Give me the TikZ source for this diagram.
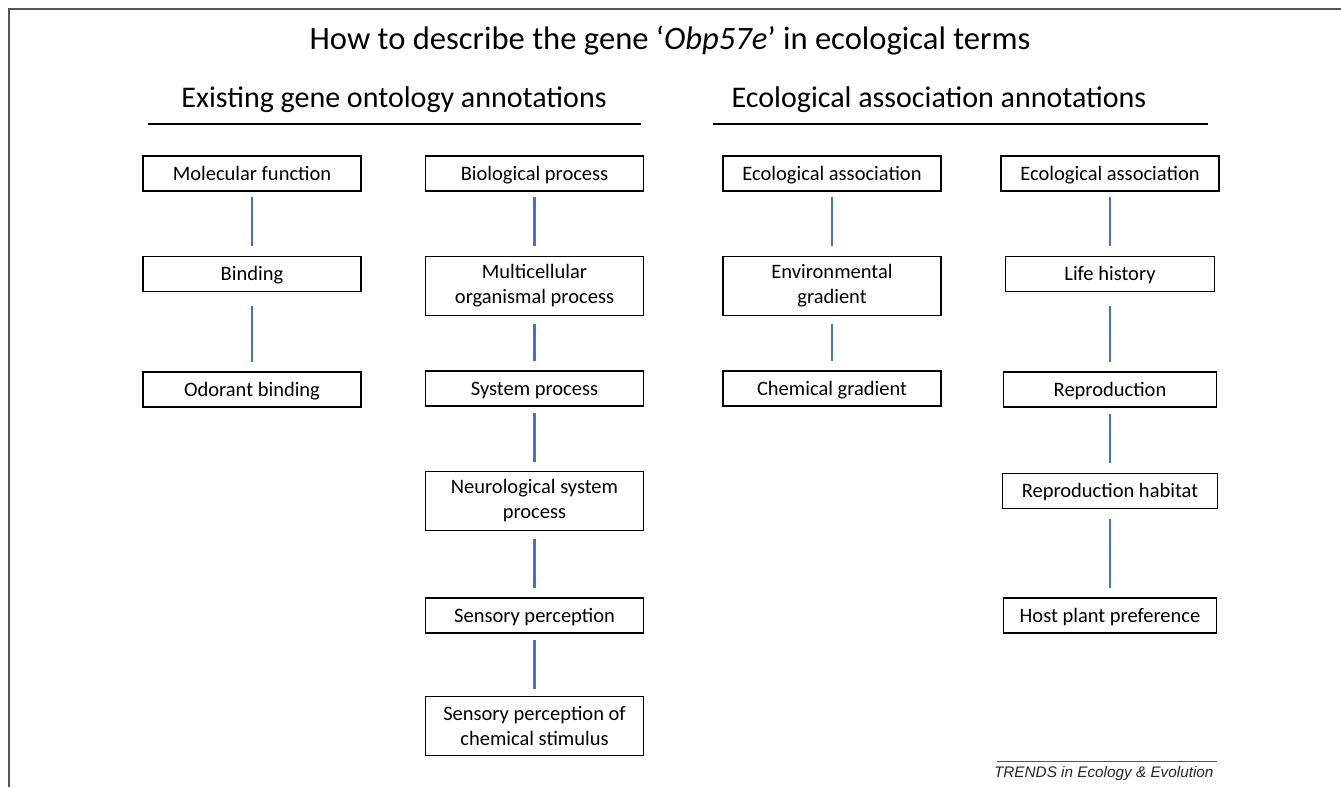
\documentclass[tikz,border=0pt]{standalone}
\usepackage{fontspec}
\setmainfont{Carlito}
\newfontfamily\trendsfont{Liberation Sans}
\usepackage{xcolor}
\usetikzlibrary{positioning}
\definecolor{linkblue}{HTML}{4472C4}
\definecolor{framegrey}{HTML}{555555}
\begin{document}
\begin{tikzpicture}[x=1pt,y=1pt,
  box/.style={draw,line width=1.5pt,minimum width=218pt,minimum height=35pt,align=center,inner sep=2pt,
    text height=17.5pt,text depth=4.5pt,font=\fontsize{20.5}{25}\selectfont},
  tall/.style={box,minimum height=59pt,text height={},text depth={}},
  link/.style={draw=linkblue,line width=2.4pt},
  head/.style={anchor=base,font=\fontsize{30}{36}\selectfont}]
\useasboundingbox (0,0) rectangle (1341,-787);
\draw[framegrey,line width=1.5pt] (9,-787) -- (9,-9) -- (1341,-9);
\node[anchor=base,font=\fontsize{32.6}{38}\selectfont] (title) at (670,-49) {How to describe the gene ‘\textit{Obp57e}’ in ecological terms};
\node[head] (gohead) at (394,-107) {Existing gene ontology annotations};
\node[head] (eahead) at (939,-107) {Ecological association annotations};
\draw[line width=2pt] (148,-124) -- (641,-124);
\draw[line width=2pt] (713,-124) -- (1208,-124);
\node[box] (molfun) at (252,-173.5) {Molecular function};
\node[box,below=64pt of molfun] (binding) {Binding};
\node[box,below=79pt of binding] (odorant) {Odorant binding};
\node[box] (bioproc) at (534.5,-173.5) {Biological process};
\node[tall,below=64pt of bioproc] (multicell) {Multicellular\\organismal process};
\node[box,below=54pt of multicell] (sysproc) {System process};
\node[tall,below=64pt of sysproc] (neuro) {Neurological system\\process};
\node[box,below=66pt of neuro] (sensory) {Sensory perception};
\node[tall,below=62pt of sensory] (chemstim) {Sensory perception of\\chemical stimulus};
\node[box] (ecoA) at (832,-173.5) {Ecological association};
\node[tall,below=64pt of ecoA] (envgrad) {Environmental\\gradient};
\node[box,below=54pt of envgrad] (chemgrad) {Chemical gradient};
\node[box] (ecoB) at (1110,-173.5) {Ecological association};
\node[box,minimum width=209pt,below=64pt of ecoB] (lifehist) {Life history};
\node[box,minimum width=213pt,below=79pt of lifehist] (repro) {Reproduction};
\node[box,minimum width=215pt,below=65pt of repro] (habitat) {Reproduction habitat};
\node[box,minimum width=213pt,below=88pt of habitat] (hostplant) {Host plant preference};
\foreach \a/\b/\s/\e in {molfun/binding/5/10,binding/odorant/14/9,
  bioproc/multicell/5/10,multicell/sysproc/8/9,sysproc/neuro/6/9,neuro/sensory/8/9,sensory/chemstim/6/7,
  ecoA/envgrad/5/10,envgrad/chemgrad/8/9,
  ecoB/lifehist/5/10,lifehist/repro/14/9,repro/habitat/6/10,habitat/hostplant/10/9}
  \draw[link,shorten <=\s pt,shorten >=\e pt] (\a) -- (\b);
\draw[framegrey,line width=0.8pt] (997,-761) -- (1217,-761);
\node[anchor=base east,text=black!85,font=\trendsfont\itshape\fontsize{15.3}{18}\selectfont] (trends) at (1217,-777) {TRENDS in Ecology \& Evolution};
\end{tikzpicture}
\end{document}
